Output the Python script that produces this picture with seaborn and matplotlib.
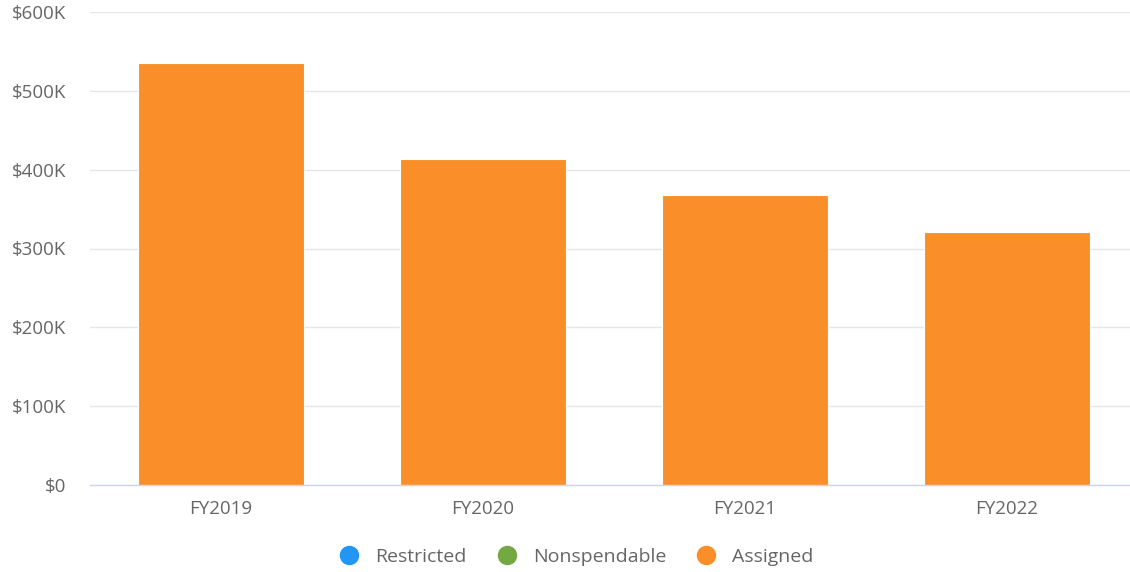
import matplotlib
matplotlib.use("Agg")
import matplotlib.pyplot as plt
from matplotlib.lines import Line2D
from matplotlib.ticker import FuncFormatter
import seaborn as sns
import pandas as pd

years = ["FY2019", "FY2020", "FY2021", "FY2022"]
restricted = [0, 0, 0, 0]
nonspendable = [0, 0, 0, 0]
assigned = [535000, 413000, 368000, 321000]

series_names = ["Restricted", "Nonspendable", "Assigned"]
series_colors = ["#2196F3", "#73A843", "#FA8F29"]

sns.set_theme(style="white")
plt.rcParams["font.family"] = ["Open Sans", "DejaVu Sans"]

df = pd.DataFrame({"year": years, "Restricted": restricted,
                   "Nonspendable": nonspendable, "Assigned": assigned})

fig = plt.figure(figsize=(11.3, 5.72), dpi=100)
ax = fig.add_axes([90 / 1130, 1 - 485 / 572, 1048 / 1130, 473 / 572])

sns.barplot(data=df, x="year", y="Assigned", color=series_colors[2],
            width=0.637, saturation=1, ax=ax, edgecolor="white", linewidth=0.8)

ax.set_ylim(0, 600000)
ax.set_xlim(-0.5, 3.5)
ax.set_yticks(range(0, 600001, 100000))
ax.yaxis.set_major_formatter(FuncFormatter(
    lambda v, _: "$0" if v == 0 else f"${int(v / 1000)}K"))
ax.grid(axis="y", color="#e6e6e6", linewidth=1)
ax.set_axisbelow(True)
for s in ["top", "right", "left"]:
    ax.spines[s].set_visible(False)
ax.spines["bottom"].set_color("#ccd6eb")
ax.spines["bottom"].set_linewidth(1)
ax.set_xlabel("")
ax.set_ylabel("")
ax.tick_params(axis="both", length=0, labelsize=13.5, labelcolor="#666666")
ax.tick_params(axis="y", pad=17)
ax.tick_params(axis="x", pad=11)

handles = [Line2D([0], [0], marker="o", linestyle="", markersize=13,
                  markerfacecolor=c, markeredgecolor=c) for c in series_colors]
fig.legend(handles, series_names, loc="center", bbox_to_anchor=(0.506, 1 - 557 / 572),
           ncol=3, frameon=False, fontsize=14, labelcolor="#666666",
           handletextpad=0.35, columnspacing=1.05)

fig.savefig("out.png", dpi=100)
